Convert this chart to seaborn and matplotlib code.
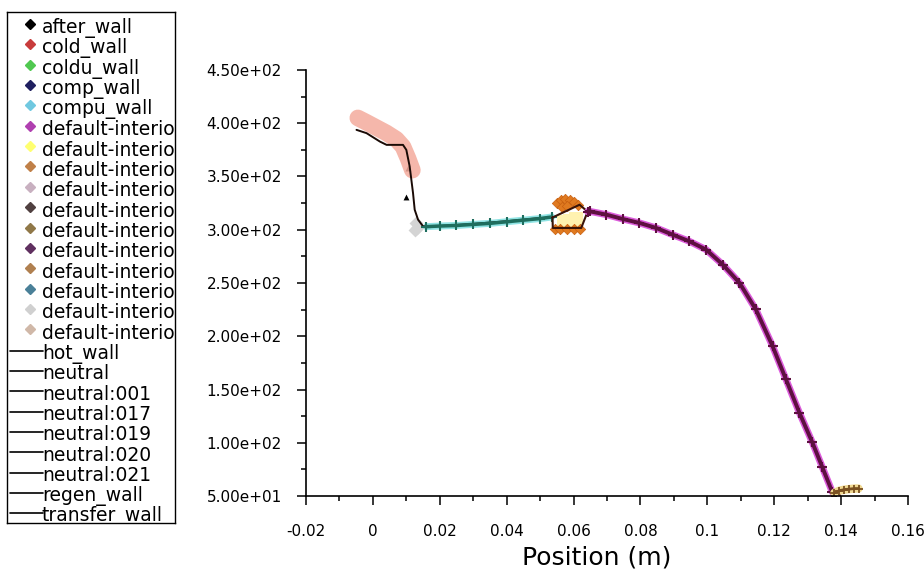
import matplotlib
matplotlib.use("Agg")
import matplotlib.pyplot as plt
import matplotlib.ticker as mticker
import seaborn as sns

# values: position (m) vs value
salmon_x = [-0.0045, -0.0020, 0.0010, 0.0040, 0.0070, 0.0090, 0.0105, 0.0118]
salmon_y = [405, 401, 396, 391, 385, 378, 367, 356]

hot_x = [-0.0049, -0.0019, 0.0021, 0.0041, 0.0090, 0.0100, 0.0110, 0.0120,
         0.0125, 0.0135, 0.0150, 0.0200, 0.0300, 0.0400, 0.0500, 0.0537]
hot_y = [393.8, 390.7, 382.8, 379.7, 379.7, 375.0, 359.4, 334.5,
         318.8, 309.5, 303.2, 303.5, 305.5, 308.0, 311.0, 311.5]

teal_x = [0.0160, 0.0200, 0.0250, 0.0300, 0.0350, 0.0400, 0.0450, 0.0500, 0.0535]
teal_y = [302.9, 303.5, 304.0, 305.0, 306.0, 307.5, 309.0, 310.5, 312.0]

pent_x = [0.0537, 0.0618, 0.0642, 0.0623, 0.0538, 0.0537]
pent_y = [311.5, 323.5, 317.0, 301.7, 301.7, 311.5]

fill_x = [0.0570, 0.0590, 0.0608, 0.0580, 0.0600]
fill_y = [307, 308, 310, 304, 304]

orange_x = [0.0550, 0.0562, 0.0575, 0.0588, 0.0600, 0.0612, 0.0565, 0.0580,
            0.0545, 0.0560, 0.0580, 0.0600, 0.0618]
orange_y = [325, 328, 329, 328, 326, 323, 321, 322,
            301, 300.5, 300.5, 300.5, 301]

grey_x = [0.0125, 0.0133, 0.0128]
grey_y = [300, 302, 306]

after_x = [0.0105, 0.0100]
after_y = [358, 331]

purple_x = [0.0642, 0.0648, 0.0698, 0.0747, 0.0797, 0.0847, 0.0896, 0.0946,
            0.0996, 0.1046, 0.1096, 0.1145, 0.1195, 0.1235, 0.1275, 0.1314,
            0.1344, 0.1374, 0.1385]
purple_y = [317.0, 317.3, 314.2, 310.1, 306.4, 301.7, 295.4, 289.2,
            281.4, 267.3, 250.2, 225.2, 190.8, 159.6, 128.4, 100.3,
            76.9, 53.5, 50.5]

tan_x = [0.1380, 0.1395, 0.1410, 0.1425, 0.1440, 0.1452]
tan_y = [53, 55, 56, 56.5, 57, 57]

x_ticks = [-0.02, 0.0, 0.02, 0.04, 0.06, 0.08, 0.10, 0.12, 0.14, 0.16]
x_tick_labels = ["-0.02", "0", "0.02", "0.04", "0.06", "0.08", "0.1", "0.12", "0.14", "0.16"]
y_ticks = [50, 100, 150, 200, 250, 300, 350, 400, 450]

marker_labels = ["after_wall", "cold_wall", "coldu_wall", "comp_wall", "compu_wall"] + \
    ["default-interior"] * 11
marker_colors = ["#000000", "#c83c3c", "#50c850", "#202060", "#70c8e0",
                 "#b040b0", "#ffff70", "#c08048", "#c8b0c0", "#504040",
                 "#907848", "#603060", "#b08050", "#4a8098", "#d0d0d0", "#d0b8a8"]
line_labels = ["hot_wall", "neutral", "neutral:001", "neutral:017", "neutral:019",
               "neutral:020", "neutral:021", "regen_wall", "transfer_wall"]

sns.set_style("ticks")
plt.rcParams["font.family"] = ["DejaVu Sans"]
plt.rcParams["text.color"] = "black"
plt.rcParams["axes.labelcolor"] = "black"

W, H = 924, 573
fig = plt.figure(figsize=(W / 100, H / 100), dpi=100)
ax = fig.add_axes([306 / W, 77 / H, 602 / W, 426 / H])

# pink band at the start
sns.lineplot(x=salmon_x, y=salmon_y, sort=False, estimator=None, color="#f4ab9c",
             lw=12, alpha=0.85, solid_capstyle="round", ax=ax)
sns.scatterplot(x=grey_x, y=grey_y, color="#d4d4d4", s=50, marker="D",
                linewidth=0, ax=ax)

# teal series
sns.lineplot(x=teal_x, y=teal_y, sort=False, estimator=None, color="#90e4e4",
             lw=5, ax=ax)
sns.lineplot(x=hot_x, y=hot_y, sort=False, estimator=None, color="#1a0a05",
             lw=1.4, ax=ax)
sns.lineplot(x=teal_x, y=teal_y, sort=False, estimator=None, color="#1e6e5e",
             lw=2.5, marker="+", ms=7, mew=1.5, mec="#1e6e5e", ax=ax)
sns.scatterplot(x=after_x, y=after_y, color="black", s=18, marker="^",
                linewidth=0, ax=ax)

# junction block
sns.scatterplot(x=fill_x, y=fill_y, color="#fff2b0", s=110, marker="s",
                linewidth=0, ax=ax)
sns.scatterplot(x=orange_x, y=orange_y, color="#e07a20", s=28, marker="D",
                edgecolor="#c86010", linewidth=0.5, ax=ax)
sns.lineplot(x=pent_x, y=pent_y, sort=False, estimator=None, color="#3a1408",
             lw=1.5, ax=ax)

# purple series
sns.lineplot(x=purple_x, y=purple_y, sort=False, estimator=None, color="#dc5cdc",
             lw=5, ax=ax)
sns.lineplot(x=purple_x, y=purple_y, sort=False, estimator=None, color="#5e1040",
             lw=2.8, marker="+", ms=7, mew=1.5, mec="#5e1040", ax=ax)

# end piece
sns.lineplot(x=tan_x, y=tan_y, sort=False, estimator=None, color="#f0d890",
             lw=6, ax=ax)
sns.lineplot(x=tan_x, y=tan_y, sort=False, estimator=None, color="#7a5020",
             lw=2, marker="+", ms=6, mew=1.3, mec="#7a5020", ax=ax)

ax.set_xlim(-0.02, 0.16)
ax.set_ylim(50, 450)
ax.set_xticks(x_ticks)
ax.set_xticklabels(x_tick_labels)
ax.set_yticks(y_ticks)
ax.yaxis.set_major_formatter(mticker.FormatStrFormatter("%.2e"))
ax.xaxis.set_minor_locator(mticker.AutoMinorLocator(2))
ax.yaxis.set_minor_locator(mticker.AutoMinorLocator(2))
ax.tick_params(which="major", length=6.5, width=1.1, colors="black", labelsize=11)
ax.tick_params(which="minor", length=3.5, width=1.1, colors="black")
ax.tick_params(axis="x", which="major", pad=14)
ax.tick_params(axis="y", which="major", pad=11)
sns.despine(ax=ax)
for side in ["left", "bottom"]:
    ax.spines[side].set_linewidth(1.2)
    ax.spines[side].set_color("black")
ax.grid(False)
ax.set_ylabel("")
ax.set_xlabel("Position (m)", fontsize=18, color="black")
ax.xaxis.set_label_coords(0.4826, -0.116)

# legend box drawn as its own axes so the texts clip at the border
lax = fig.add_axes([7 / W, 1 - 523 / H, 168 / W, 511 / H])
lax.set_xlim(0, 168)
lax.set_ylim(511, 0)
lax.set_xticks([])
lax.set_yticks([])
lax.set_facecolor("white")
for sp in lax.spines.values():
    sp.set_visible(True)
    sp.set_color("black")
    sp.set_linewidth(1.0)

row_h = 20.35
for i, (lab, col) in enumerate(zip(marker_labels, marker_colors)):
    yc = 16 + i * row_h
    lax.plot([23], [yc - 4], marker="D", ms=5, color=col, ls="none")
    lax.text(35, yc, lab, fontsize=13.5, color="black", va="center", ha="left",
             clip_on=True)
for j, lab in enumerate(line_labels):
    yc = 16 + (len(marker_labels) + j) * row_h
    lax.plot([3, 36], [yc - 3, yc - 3], color="black", lw=1.2)
    lax.text(35, yc, lab, fontsize=13.5, color="black", va="center", ha="left",
             clip_on=True)

fig.savefig("out.png", dpi=100)
